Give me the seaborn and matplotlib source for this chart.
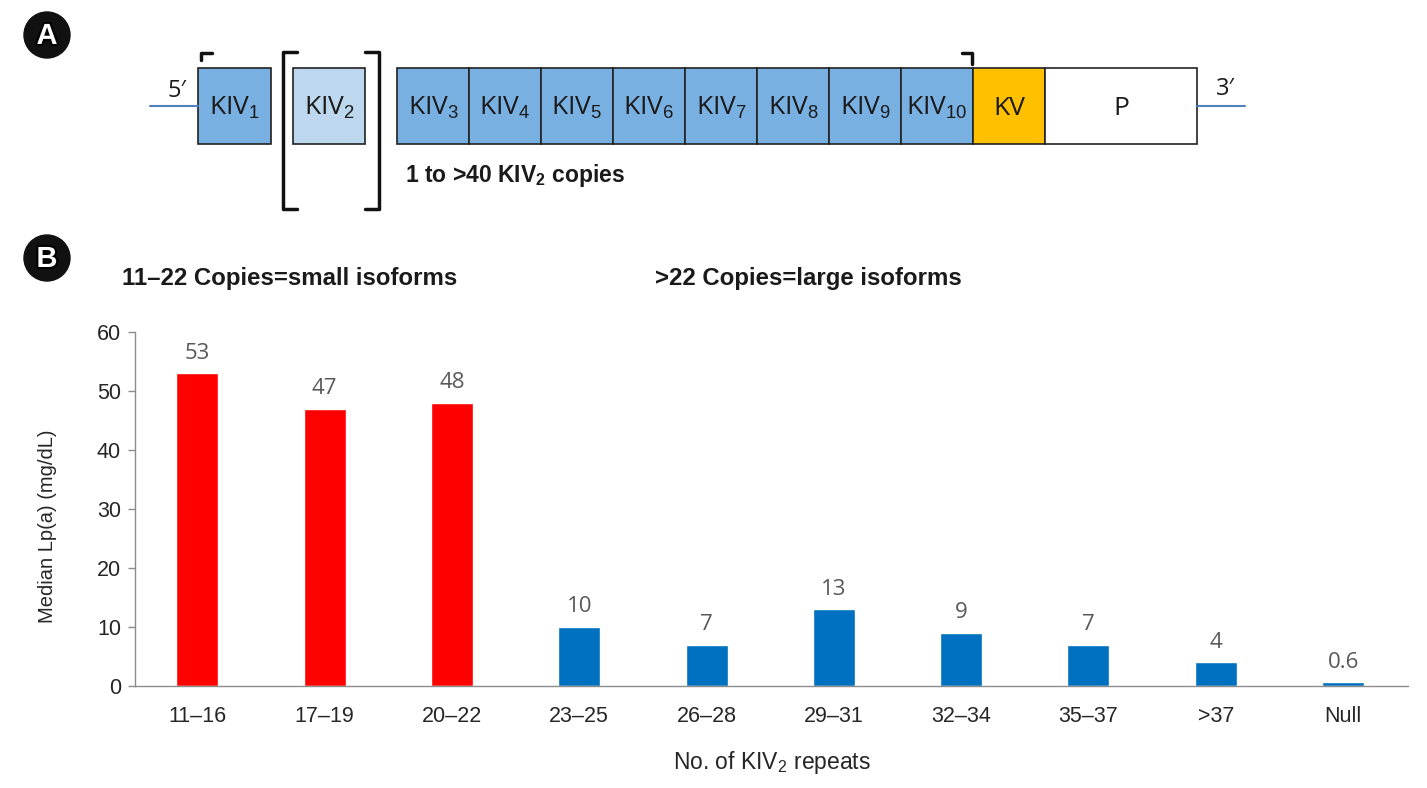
import numpy as np
import pandas as pd
import matplotlib.pyplot as plt
import matplotlib.patheffects as pe
from matplotlib.patches import Rectangle, Circle
import seaborn as sns

# Panel B data
repeats = ['11–16', '17–19', '20–22', '23–25', '26–28', '29–31', '32–34', '35–37', '>37', 'Null']
median_lpa = [53, 47, 48, 10, 7, 13, 9, 7, 4, 0.6]
isoform = ['small', 'small', 'small', 'large', 'large', 'large', 'large', 'large', 'large', 'large']
bar_colors = {'small': '#ff0000', 'large': '#0070c0'}

# Panel A schematic: kringle segments of the main block
segments = [r'KIV$_{3}$', r'KIV$_{4}$', r'KIV$_{5}$', r'KIV$_{6}$', r'KIV$_{7}$',
            r'KIV$_{8}$', r'KIV$_{9}$', r'KIV$_{10}$', 'KV', 'P']
seg_colors = ['#79b0e2'] * 8 + ['#ffc000', '#ffffff']
seg_widths = [72] * 9 + [152]

sns.set_style('white')
plt.rcParams['font.family'] = ['Liberation Sans', 'DejaVu Sans']
plt.rcParams['mathtext.fontset'] = 'custom'
plt.rcParams['mathtext.rm'] = 'Liberation Sans'
plt.rcParams['mathtext.it'] = 'Liberation Sans:italic'
plt.rcParams['mathtext.bf'] = 'Liberation Sans:bold'

df = pd.DataFrame({'repeats': repeats, 'lpa': median_lpa, 'isoform': isoform})

fig = plt.figure(figsize=(14.27, 7.88), dpi=100)
ax = fig.add_axes([135 / 1427, 1 - 686 / 788, (1408 - 135) / 1427, (686 - 332) / 788])
sns.barplot(data=df, x='repeats', y='lpa', hue='isoform', palette=bar_colors,
            dodge=False, width=0.33, saturation=1, legend=False, ax=ax)
for cont in ax.containers:
    ax.bar_label(cont, fmt='{:g}', padding=7, fontsize=16, color='#595959',
                 family='Open Sans')

ax.set_ylim(0, 60)
ax.set_xlim(-0.49, 9.51)
ax.set_yticks(range(0, 61, 10))
sns.despine(ax=ax)
for s in ['left', 'bottom']:
    ax.spines[s].set_color('#8c8c8c')
    ax.spines[s].set_linewidth(1.0)
ax.tick_params(axis='y', left=True, length=5, width=1, color='#8c8c8c',
               labelsize=15.5, labelcolor='#262626', pad=5)
ax.tick_params(axis='x', bottom=False, labelsize=15.5, labelcolor='#262626', pad=11)
ax.set_ylabel('Median Lp(a) (mg/dL)', fontsize=14.5, color='#262626')
ax.set_xlabel(r'No. of KIV$_{2}$ repeats', fontsize=16.5, color='#262626')
ax.yaxis.set_label_coords(-0.061, 0.452)
ax.xaxis.set_label_coords(0.5, -0.178)

fig.text(122 / 1427, 1 - 278 / 788, '11–22 Copies=small isoforms', fontsize=17.3,
         fontweight='bold', color='#1a1a1a', va='center')
fig.text(655 / 1427, 1 - 278 / 788, '>22 Copies=large isoforms', fontsize=17.3,
         fontweight='bold', color='#1a1a1a', va='center')

# overlay in pixel units for the schematic and panel badges
ov = fig.add_axes([0, 0, 1, 1])
ov.set_xlim(0, 1427)
ov.set_ylim(788, 0)
ov.axis('off')
ov.patch.set_alpha(0)

for letter, cy in [('A', 35), ('B', 258)]:
    ov.add_patch(Circle((47, cy), 23, color='#111111'))
    ov.text(47, cy + 1, letter, fontsize=21, fontweight='bold', color='white',
            ha='center', va='center',
            path_effects=[pe.withStroke(linewidth=3, foreground='black')])

top, bot = 68, 144
mid = (top + bot) / 2
line_col = '#4f81bd'
box_font = dict(fontsize=19, family='Open Sans', color='#1a1a1a', ha='center', va='center')

ov.plot([150, 198], [mid, mid], color=line_col, lw=1.5)
ov.text(177, 91, "5′", **{**box_font, 'fontsize': 17})
ov.add_patch(Rectangle((198, top), 73, bot - top, facecolor='#79b0e2', edgecolor='#222222', lw=1.2))
ov.text(234, mid + 2, r'KIV$_{1}$', **box_font)
ov.add_patch(Rectangle((293, top), 72, bot - top, facecolor='#bdd7ee', edgecolor='#222222', lw=1.2))
ov.text(329, mid + 2, r'KIV$_{2}$', **box_font)

# brackets
ov.plot([297, 283, 283, 297], [52, 52, 209, 209], color='#111111', lw=2.5, solid_capstyle='round')
ov.plot([365, 379, 379, 365], [52, 52, 209, 209], color='#111111', lw=2.5, solid_capstyle='round')
ov.plot([201, 201, 212], [60, 53, 53], color='#111111', lw=2.5)
ov.plot([962, 972, 972], [53, 53, 64], color='#111111', lw=2.5)

x0 = 397
for lab, col, w in zip(segments, seg_colors, seg_widths):
    ov.add_patch(Rectangle((x0, top), w, bot - top, facecolor=col, edgecolor='#222222', lw=1.2))
    ov.text(x0 + w / 2, mid + 2, lab, **box_font)
    x0 += w
ov.plot([x0, x0 + 48], [mid, mid], color=line_col, lw=1.5)
ov.text(x0 + 28, 89, "3′", **{**box_font, 'fontsize': 17})

ov.text(405, 175, r'1 to >40 KIV$_{\mathbf{2}}$ copies', fontsize=16.5, fontweight='bold',
        color='#1a1a1a', va='center')

fig.savefig('out.png', dpi=100)
